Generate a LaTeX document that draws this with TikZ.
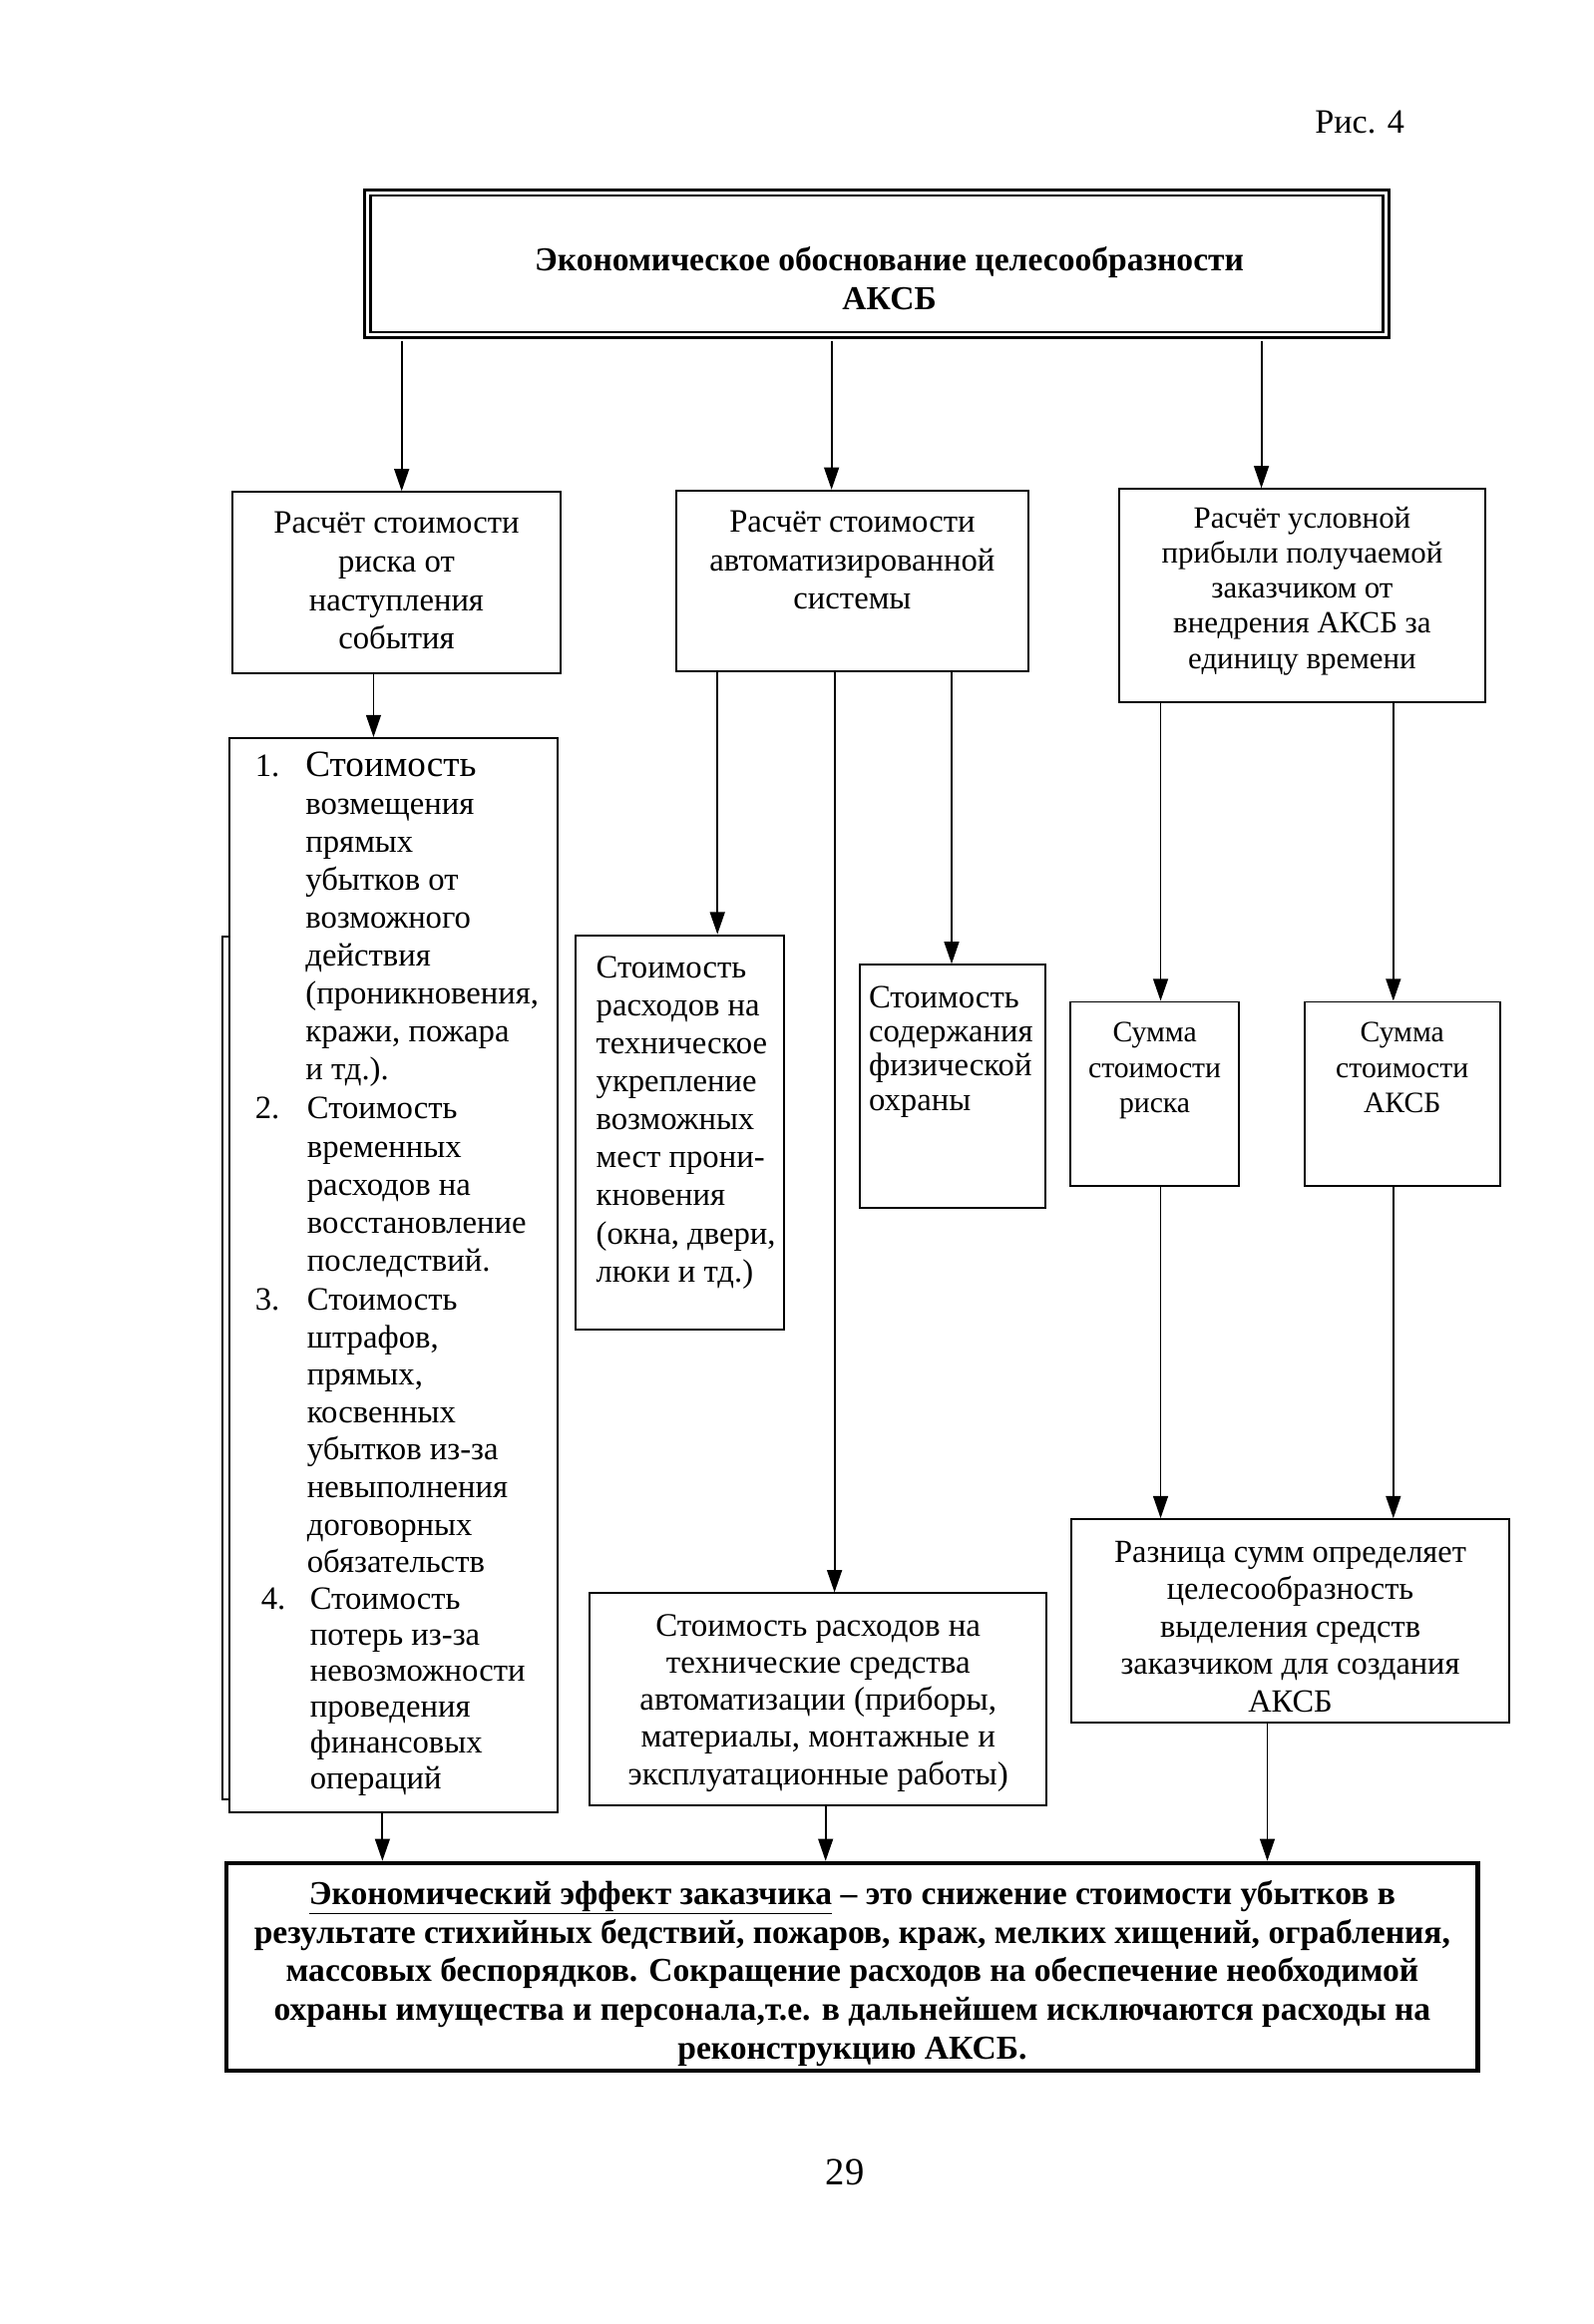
\documentclass[tikz,border=0pt]{standalone}
\usepackage{fontspec}
\setmainfont{Liberation Serif}
\usetikzlibrary{arrows.meta}
\newcommand{\tc}[1]{\begin{tabular}[t]{@{}c@{}}#1\end{tabular}}
\newcommand{\tlft}[1]{\begin{tabular}[t]{@{}l@{}}#1\end{tabular}}
\newcommand{\fs}[2]{\fontsize{#1}{#2}\selectfont}
\begin{document}
\begin{tikzpicture}[x=1pt,y=-1pt,
  box/.style={draw, line width=1.3pt, fill=white, inner sep=0pt},
  arr/.style={line width=1.3pt, -{Triangle[length=15pt,width=10pt]}},
  txt/.style={inner sep=0pt, anchor=base},
  txtl/.style={inner sep=0pt, anchor=base west}]
\useasboundingbox (0,0) rectangle (1075,1568);
\fill[white] (0,0) rectangle (1075,1568);

\node[txtl] (fig) at (887,90) {\fs{23}{26}Рис. 4};

% top box
\node[draw, line width=1.9pt, double, double distance=2pt, minimum width=687.2pt, minimum height=96.2pt, inner sep=0pt] (T) at (591.5,178) {};
\node[txt] (Tt) at (600,183) {\fs{22.6}{26}\bfseries\tc{Экономическое обоснование целесообразности\\АКСБ}};

% second row
\node[box, minimum width=221pt, minimum height=122pt] (A) at (267.5,393) {};
\node[txt] (At) at (267.5,360) {\fs{22}{26}\tc{Расчёт стоимости\\риска от\\наступления\\события}};
\node[box, minimum width=238pt, minimum height=122pt] (B) at (575,392) {};
\node[txt] (Bt) at (575,359) {\fs{22}{26}\tc{Расчёт стоимости\\автоматизированной\\системы}};
\node[box, minimum width=247pt, minimum height=144pt] (C) at (878.5,402) {};
\node[txt] (Ct) at (878.5,356) {\fs{20.8}{23.75}\tc{Расчёт условной\\прибыли получаемой\\заказчиком от\\внедрения АКСБ за\\единицу времени}};

% list box
\draw[line width=1.3pt] (150,632) rectangle (200,1214);
\node[box, minimum width=221pt, minimum height=725pt] (L) at (265.5,860.5) {};
\node[txtl] (n1) at (172,524) {\fs{22}{25.6}1.};
\node[txtl] (i1) at (206,524) {\fs{22}{25.6}\tlft{{\fontsize{25}{25.6}\selectfont Стоимость}\\возмещения\\прямых\\убытков от\\возможного\\действия\\(проникновения,\\кражи, пожара\\и тд.).}};
\node[txtl] (n2) at (172,755) {\fs{22}{25.7}2.};
\node[txtl] (i2) at (207,755) {\fs{22}{25.7}\tlft{Стоимость\\временных\\расходов на\\восстановление\\последствий.}};
\node[txtl] (n3) at (172,884) {\fs{22}{25.3}3.};
\node[txtl] (i3) at (207,884) {\fs{22}{25.3}\tlft{Стоимость\\штрафов,\\прямых,\\косвенных\\убытков из-за\\невыполнения\\договорных\\обязательств}};
\node[txtl] (n4) at (176,1086) {\fs{22}{24.2}4.};
\node[txtl] (i4) at (209,1086) {\fs{22}{24.2}\tlft{Стоимость\\потерь из-за\\невозможности\\проведения\\финансовых\\операций}};

% D, E
\node[box, minimum width=141pt, minimum height=266pt] (D) at (458.5,764) {};
\node[txtl] (Dt) at (402,660) {\fs{22}{25.6}\tlft{Стоимость\\расходов на\\техническое\\укрепление\\возможных\\мест прони-\\кновения\\(окна, двери,\\люки и тд.)}};
\node[box, minimum width=125pt, minimum height=164pt] (E) at (642.5,733) {};
\node[txtl] (Et) at (586,680) {\fs{22}{23}\tlft{Стоимость\\содержания\\физической\\охраны}};

% F, H
\node[box, minimum width=114pt, minimum height=124pt] (F) at (779,738) {};
\node[txt] (Ft) at (779,703) {\fs{20}{24}\tc{Сумма\\стоимости\\риска}};
\node[box, minimum width=132pt, minimum height=124pt] (H) at (946,738) {};
\node[txt] (Ht) at (946,703) {\fs{20}{24}\tc{Сумма\\стоимости\\АКСБ}};

% G, I
\node[box, minimum width=308pt, minimum height=143pt] (G) at (552,1146.5) {};
\node[txt] (Gt) at (552,1104) {\fs{22.2}{25}\tc{Стоимость расходов на\\технические средства\\автоматизации (приборы,\\материалы, монтажные и\\эксплуатационные работы)}};
\node[box, minimum width=295pt, minimum height=137pt] (I) at (870.5,1093.5) {};
\node[txt] (It) at (870.5,1054) {\fs{21.8}{25.25}\tc{Разница сумм определяет\\целесообразность\\выделения средств\\заказчиком для создания\\АКСБ}};

% bottom box
\node[draw, line width=2.8pt, fill=white, inner sep=0pt, minimum width=844pt, minimum height=140pt] (Z) at (575,1327) {};
\node[txt] (Zt) at (575,1285) {\fs{22.6}{26}\bfseries\tc{\underline{Экономический эффект заказчика} – это снижение стоимости убытков в\\результате стихийных бедствий, пожаров, краж, мелких хищений, ограбления,\\массовых беспорядков. Сокращение расходов на обеспечение необходимой\\охраны имущества и персонала,т.е. в дальнейшем исключаются расходы на\\реконструкцию АКСБ.}};

\node[txt] (pg) at (570,1474) {\fs{26}{30}29};

% x positions of connectors
\coordinate (x271) at (271,0);
\coordinate (x561) at (561,0);
\coordinate (x851) at (851,0);
\coordinate (x252) at (252,0);
\coordinate (x484) at (484,0);
\coordinate (x563) at (563,0);
\coordinate (x642) at (642,0);
\coordinate (x783) at (783,0);
\coordinate (x940) at (940,0);
\coordinate (x258) at (258,0);
\coordinate (x557) at (557,0);
\coordinate (x855) at (855,0);

\draw[arr, shorten <=2.9pt] (T.south -| x271) -- (A.north -| x271);
\draw[arr, shorten <=2.9pt] (T.south -| x561) -- (B.north -| x561);
\draw[arr, shorten <=2.9pt] (T.south -| x851) -- (C.north -| x851);
\draw[arr] (A.south -| x252) -- (L.north -| x252);
\draw[arr] (B.south -| x484) -- (D.north -| x484);
\draw[arr] (B.south -| x563) -- (G.north -| x563);
\draw[arr] (B.south -| x642) -- (E.north -| x642);
\draw[arr] (C.south -| x783) -- (F.north -| x783);
\draw[arr] (C.south -| x940) -- (H.north -| x940);
\draw[arr] (F.south -| x783) -- (I.north -| x783);
\draw[arr] (H.south -| x940) -- (I.north -| x940);
\draw[arr] (L.south -| x258) -- (Z.north -| x258);
\draw[arr] (G.south -| x557) -- (Z.north -| x557);
\draw[arr] (I.south -| x855) -- (Z.north -| x855);
\end{tikzpicture}
\end{document}
